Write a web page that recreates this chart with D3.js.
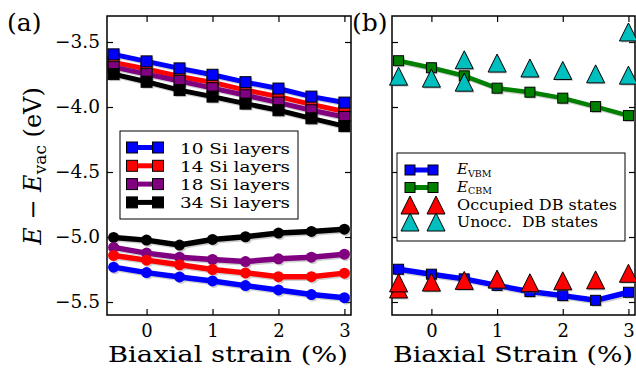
<!DOCTYPE html>
<html lang="en">
<head>
<meta charset="UTF-8">
<title>Band edges vs biaxial strain</title>
<script src="https://d3js.org/d3.v7.min.js"></script>
<style>
  body { margin: 0; background: #fff; }
  text { font-family: "DejaVu Serif", serif; fill: #000; }
</style>
</head>
<body>
<svg width="636" height="375"></svg>
<script>
// strain points (%)
const strain = [-0.5, 0, 0.5, 1, 1.5, 2, 2.5, 3];

// panel (a): CBM (squares) and VBM (circles) per slab thickness
const cbm10 = [-3.595, -3.649, -3.703, -3.752, -3.809, -3.858, -3.920, -3.966];
const cbm14 = [-3.657, -3.708, -3.765, -3.811, -3.870, -3.920, -3.980, -4.035];
const cbm18 = [-3.693, -3.747, -3.800, -3.855, -3.910, -3.966, -4.025, -4.077];
const cbm34 = [-3.747, -3.806, -3.870, -3.920, -3.974, -4.025, -4.087, -4.147];
const vbm10 = [-5.232, -5.274, -5.307, -5.338, -5.374, -5.407, -5.443, -5.467];
const vbm14 = [-5.142, -5.178, -5.214, -5.250, -5.276, -5.305, -5.305, -5.278];
const vbm18 = [-5.080, -5.124, -5.155, -5.173, -5.189, -5.168, -5.155, -5.132];
const vbm34 = [-5.003, -5.024, -5.062, -5.019, -4.998, -4.970, -4.957, -4.940];
const layerLabels = ["10 Si layers", "14 Si layers", "18 Si layers", "34 Si layers"];

// panel (b)
const vbmB = [-5.248, -5.286, -5.322, -5.372, -5.420, -5.451, -5.487, -5.425];
const cbmB = [-3.644, -3.698, -3.760, -3.855, -3.886, -3.932, -3.997, -4.066];
const occX = [-0.5, -0.5, 0, 0.5, 1, 1.5, 2, 2.5, 3];
const occY = [-5.400, -5.353, -5.347, -5.334, -5.324, -5.352, -5.337, -5.330, -5.279];
const unoccX = [-0.5, 0, 0.5, 0.5, 1, 1.5, 2, 2.5, 3, 3];
const unoccY = [-3.763, -3.778, -3.637, -3.809, -3.662, -3.700, -3.719, -3.745, -3.423, -3.755];

const xTicks = [0, 1, 2, 3];
const yTicks = [-3.5, -4.0, -4.5, -5.0, -5.5];

const svg = d3.select("svg");
const plotTop = 16, plotBottom = 315;

const y = d3.scaleLinear().domain([-5.6, -3.3]).range([plotBottom, plotTop]);
const xa = d3.scaleLinear().domain([-0.6, 3.1]).range([107, 351]);
const xb = d3.scaleLinear().domain([-0.6, 3.1]).range([392, 635]);

const fmt = d3.format(".1f");
const shadowOff = "translate(1.5,1.5)";

function frame(x, showY) {
  const g = svg.append("g");
  const [x0, x1] = x.range();
  // bottom axis
  g.append("g").attr("transform", `translate(0,${plotBottom})`)
    .call(d3.axisBottom(x).tickValues(xTicks).tickSize(-6).tickPadding(9).tickFormat(d3.format("d")))
    .call(a => a.select(".domain").remove())
    .call(a => a.selectAll("text").style("font-size", "18px").attr("font-family", "DejaVu Serif"));
  g.append("g").attr("transform", `translate(0,${plotTop})`)
    .call(d3.axisTop(x).tickValues(xTicks).tickSize(-6).tickFormat(""))
    .call(a => a.select(".domain").remove());
  const left = d3.axisLeft(y).tickValues(yTicks).tickSize(-6).tickPadding(7).tickFormat(showY ? fmt : "");
  g.append("g").attr("transform", `translate(${x0},0)`)
    .call(left)
    .call(a => a.select(".domain").remove())
    .call(a => a.selectAll("text").style("font-size", "18.5px").attr("font-family", "DejaVu Serif"));
  g.append("g").attr("transform", `translate(${x1},0)`)
    .call(d3.axisRight(y).tickValues(yTicks).tickSize(-6).tickFormat(""))
    .call(a => a.select(".domain").remove());
  g.selectAll(".tick line").attr("stroke", "#000").attr("stroke-width", 1.2);
  g.append("rect").attr("x", x0).attr("y", plotTop).attr("width", x1 - x0).attr("height", plotBottom - plotTop)
    .attr("fill", "none").attr("stroke", "#000").attr("stroke-width", 1.5);
}

function lineSeries(g, x, xs, ys, color, width, marker, size) {
  const pts = xs.map((v, i) => [x(v), y(ys[i])]);
  const line = d3.line();
  const sh = g.append("g").attr("transform", shadowOff).attr("opacity", 0.35);
  const fg = g.append("g");
  [sh, fg].forEach((layer, k) => {
    const c = k === 0 ? "#777" : color;
    layer.append("path").attr("d", line(pts)).attr("fill", "none")
      .attr("stroke", c).attr("stroke-width", width).attr("stroke-linejoin", "round");
    drawMarkers(layer, pts, c, marker, size, k === 0 ? "none" : "#000");
  });
}

function drawMarkers(layer, pts, fill, marker, size, edge) {
  const h = size / 2;
  pts.forEach(([px, py]) => {
    if (marker === "square") {
      layer.append("rect").attr("x", px - h).attr("y", py - h).attr("width", size).attr("height", size)
        .attr("fill", fill).attr("stroke", edge).attr("stroke-width", 1);
    } else if (marker === "circle") {
      layer.append("circle").attr("cx", px).attr("cy", py).attr("r", h).attr("fill", fill);
    } else {
      layer.append("path").attr("d", `M${px},${py - h}L${px + h},${py + h}L${px - h},${py + h}Z`)
        .attr("fill", fill).attr("stroke", edge).attr("stroke-width", 1);
    }
  });
}

function scatter(g, x, xs, ys, color, size) {
  const pts = xs.map((v, i) => [x(v), y(ys[i])]);
  drawMarkers(g.append("g").attr("transform", shadowOff).attr("opacity", 0.35), pts, "#777", "tri", size, "none");
  drawMarkers(g.append("g"), pts, color, "tri", size, "#000");
}

// ---------- panel (a) ----------
frame(xa, true);
const ga = svg.append("g");
const colorsA = ["#0000ff", "#ff0000", "#800080", "#000000"];
const cbmA = [cbm10, cbm14, cbm18, cbm34];
const vbmA = [vbm10, vbm14, vbm18, vbm34];
[1, 2, 3, 0].forEach(i => {
  lineSeries(ga, xa, strain, cbmA[i], colorsA[i], 5, "square", 11);
});
[3, 2, 1, 0].forEach(i => {
  lineSeries(ga, xa, strain, vbmA[i], colorsA[i], 5.5, "circle", 11);
});

// legend (a)
const la = svg.append("g");
la.append("rect").attr("x", 120).attr("y", 131).attr("width", 178).attr("height", 88)
  .attr("fill", "#fff").attr("stroke", "#000").attr("stroke-width", 1);
layerLabels.forEach((t, i) => {
  const yy = 147.5 + i * 18.3;
  la.append("line").attr("x1", 132).attr("x2", 158).attr("y1", yy).attr("y2", yy)
    .attr("stroke", colorsA[i]).attr("stroke-width", 5);
  drawMarkers(la, [[132, yy], [158, yy]], colorsA[i], "square", 11, "#000");
  la.append("text").attr("x", 180).attr("y", yy + 6).style("font-size", "15.7px")
    .attr("textLength", 110).attr("lengthAdjust", "spacingAndGlyphs").text(t);
});

svg.append("text").attr("x", 7).attr("y", 31).style("font-size", "25px").text("(a)");
svg.append("text").attr("x", 108).attr("y", 362).style("font-size", "22px")
  .attr("textLength", 240).attr("lengthAdjust", "spacingAndGlyphs").text("Biaxial strain (%)");

const yl = svg.append("text").attr("transform", "translate(41,166) rotate(-90)")
  .attr("text-anchor", "middle").style("font-size", "24px");
yl.append("tspan").attr("font-style", "italic").text("E");
yl.append("tspan").text(" − ");
yl.append("tspan").attr("font-style", "italic").text("E");
yl.append("tspan").attr("dy", 5).style("font-size", "17px").text("vac");
yl.append("tspan").attr("dy", -5).text(" (eV)");

// ---------- panel (b) ----------
frame(xb, false);
const gb = svg.append("g");
lineSeries(gb, xb, strain, cbmB, "#008000", 4.5, "square", 10);
scatter(gb, xb, unoccX, unoccY, "#00bfbf", 18);
lineSeries(gb, xb, strain, vbmB, "#0000ff", 5.5, "square", 10);
scatter(gb, xb, occX, occY, "#ff0000", 18);

// legend (b)
const lb = svg.append("g");
lb.append("rect").attr("x", 397).attr("y", 153).attr("width", 228).attr("height", 88)
  .attr("fill", "#fff").attr("stroke", "#000").attr("stroke-width", 1);
const legB = [
  { c: "#0000ff", m: "square", sub: "VBM", w: 0 },
  { c: "#008000", m: "square", sub: "CBM", w: 0 },
  { c: "#ff0000", m: "tri", t: "Occupied DB states", w: 160 },
  { c: "#00bfbf", m: "tri", t: "Unocc.  DB states", w: 141 }
];
const rowY = [170, 187.5, 205, 222];
legB.forEach((d, i) => {
  const yy = rowY[i];
  if (d.m === "square") {
    lb.append("line").attr("x1", 410).attr("x2", 433).attr("y1", yy).attr("y2", yy)
      .attr("stroke", d.c).attr("stroke-width", 5);
    drawMarkers(lb, [[410, yy], [433, yy]], d.c, "square", 10, "#000");
    const t = lb.append("text").attr("x", 457).attr("y", yy + 4).style("font-size", "15px");
    t.append("tspan").attr("font-style", "italic").text("E");
    t.append("tspan").attr("dy", 2.5).style("font-size", "9.5px").text(d.sub);
  } else {
    drawMarkers(lb, [[410, yy], [436, yy]], d.c, "tri", 18, "#000");
    lb.append("text").attr("x", 457).attr("y", yy + 5).style("font-size", "14.3px")
      .style("white-space", "pre")
      .attr("textLength", d.w).attr("lengthAdjust", "spacingAndGlyphs").text(d.t);
  }
});

svg.append("text").attr("x", 352).attr("y", 31).style("font-size", "25px").text("(b)");
svg.append("text").attr("x", 393).attr("y", 362).style("font-size", "22px")
  .attr("textLength", 240).attr("lengthAdjust", "spacingAndGlyphs").text("Biaxial Strain (%)");
</script>
</body>
</html>
